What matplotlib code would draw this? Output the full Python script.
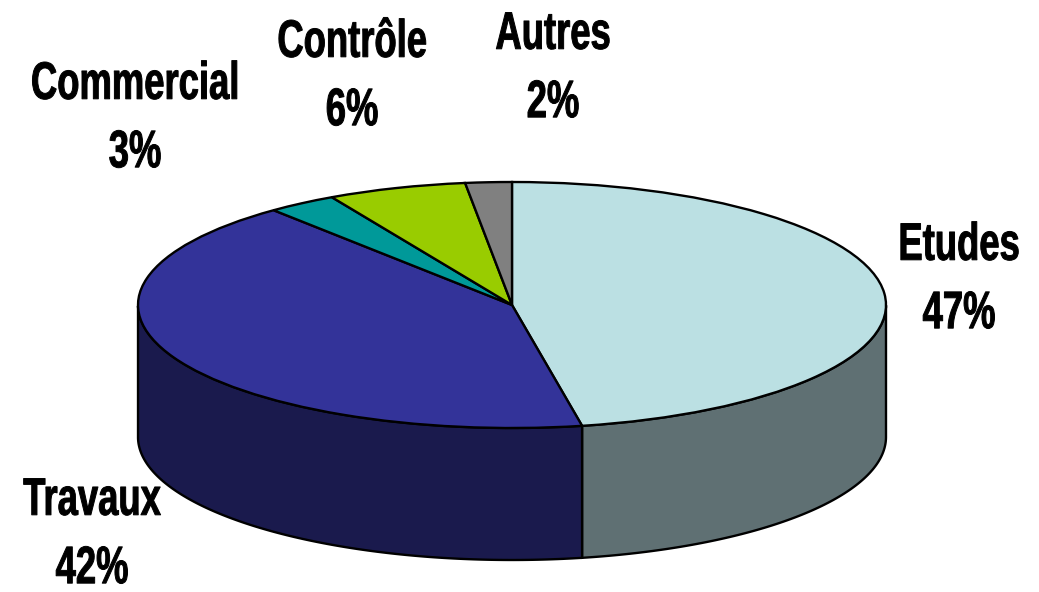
import numpy as np
import matplotlib
matplotlib.use("Agg")
import matplotlib.pyplot as plt
from matplotlib.patheffects import AbstractPathEffect
from matplotlib.text import Text
from matplotlib.transforms import Affine2D, Bbox

labels = ["Etudes", "Travaux", "Commercial", "Contrôle", "Autres"]
values = [47, 42, 3, 6, 2]
colors = ["#BBE0E3", "#333399", "#009999", "#99CC00", "#808080"]
side_colors = ["#5F7073", "#1A1A4D", "#004D4D", "#4D6600", "#404040"]

W, H = 1039, 592
cx, cy, rx, ry = 512, 305, 374, 123
depth = 132 / ry
SX = 0.69


class Squeeze(AbstractPathEffect):
    # narrow the glyphs around the label centre, the font has no condensed cut
    def __init__(self, xc, sx=SX, bold=0.7):
        super().__init__()
        self.xc, self.sx, self.bold = xc, sx, bold

    def draw_path(self, renderer, gc, tpath, affine, rgbFace=None):
        a = affine + Affine2D().translate(-self.xc, 0).scale(self.sx, 1).translate(self.xc, 0)
        gc0 = renderer.new_gc()
        gc0.copy_properties(gc)
        gc0.set_linewidth(self.bold)
        gc0.set_foreground("black")
        renderer.draw_path(gc0, tpath, a, rgbFace)
        gc0.restore()


class NarrowText(Text):
    # report the box of the squeezed glyphs, not of the full width ones
    def get_window_extent(self, renderer=None, dpi=None):
        bb = super().get_window_extent(renderer, dpi)
        mid = (bb.x0 + bb.x1) / 2
        half = bb.width * SX / 2
        return Bbox([[mid - half, bb.y0], [mid + half, bb.y1]])


fig = plt.figure(figsize=(W / 100, H / 100), dpi=100)
ax = fig.add_axes([(cx - rx) / W, 1 - (cy + ry) / H, 2 * rx / W, 2 * ry / H])

# walls first, only the front half of the ellipse shows
ang = 90.0
for v, c in zip(values, side_colors):
    a2 = ang - v * 3.6
    t = np.radians(np.linspace(ang, a2, 200))
    x, y = np.cos(t), np.sin(t)
    keep = y <= 0.0001
    if keep.sum() > 1:
        xs, ys = x[keep], y[keep]
        ax.fill(np.r_[xs, xs[::-1]], np.r_[ys, ys[::-1] - depth], fc=c, ec="black", lw=1.7,
                clip_on=False)
    ang = a2

ax.pie(values, colors=colors, startangle=90, counterclock=False, radius=1,
       wedgeprops=dict(edgecolor="black", linewidth=1.7, clip_on=False))
ax.set_aspect("auto")
ax.set_xlim(-1, 1)
ax.set_ylim(-1, 1)

label_pos = [(959, 280), (92, 535), (135, 119), (352, 77), (553, 69)]
for name, v, (px, py) in zip(labels, values, label_pos):
    fig.add_artist(NarrowText(px / W, 1 - py / H, f"{name}\n{v}%", ha="center", va="center",
                              transform=fig.transFigure, fontsize=38, fontweight="bold",
                              family="Liberation Sans", linespacing=1.47,
                              path_effects=[Squeeze(px)]))

fig.savefig("out.png", dpi=100)
